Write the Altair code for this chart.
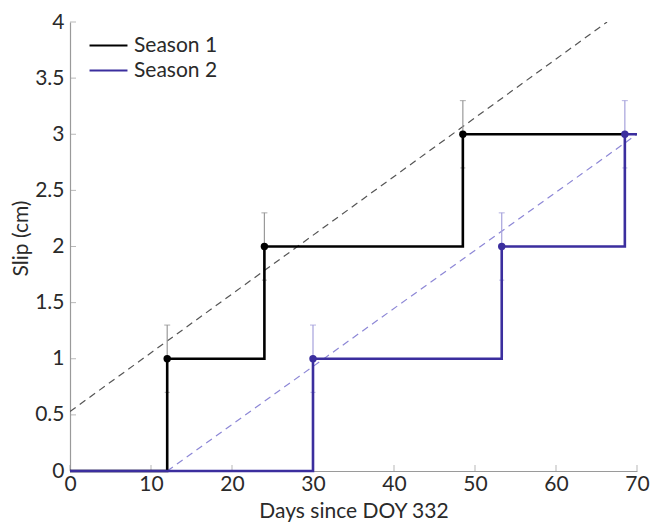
import altair as alt
import pandas as pd

# ---- data ----
seasons = ["Season 1", "Season 2"]

# step series (step-after)
s1_days = [0, 12, 24, 48.5, 68.5]
s1_slip = [0, 1, 2, 3, 3]
s2_days = [0, 30, 53.3, 68.5, 70]
s2_slip = [0, 1, 2, 3, 3]

# observed points with error
p1_days = [12, 24, 48.5]
p1_slip = [1, 2, 3]
p2_days = [30, 53.3, 68.5]
p2_slip = [1, 2, 3]
err = 0.3

# trend (dashed) lines endpoints
t1_days = [0, 66.3]
t1_slip = [0.53, 4.0]
t2_days = [12, 70]
t2_slip = [0, 3.0]

x_ticks = [0, 10, 20, 30, 40, 50, 60, 70]
y_ticks = [0, 0.5, 1, 1.5, 2, 2.5, 3, 3.5, 4]

# ---- tables ----
steps = pd.DataFrame(
    {"day": s1_days + s2_days,
     "slip": s1_slip + s2_slip,
     "season": [seasons[0]] * len(s1_days) + [seasons[1]] * len(s2_days)}
)
pts = pd.DataFrame(
    {"day": p1_days + p2_days,
     "slip": p1_slip + p2_slip,
     "season": [seasons[0]] * len(p1_days) + [seasons[1]] * len(p2_days)}
)
pts["lo"] = pts["slip"] - err
pts["hi"] = pts["slip"] + err
trend = pd.DataFrame(
    {"day": t1_days + t2_days,
     "slip": t1_slip + t2_slip,
     "season": [seasons[0]] * len(t1_days) + [seasons[1]] * len(t2_days)}
)
xt = pd.DataFrame({"v": x_ticks})
yt = pd.DataFrame({"v": y_ticks})

FONT = "Lato"
FS = 21
BLACK = "#000000"
BLUE = "#3b2e9e"
AX = "#9a9a9a"
TXT = "#2a2a2a"

xscale = alt.Scale(domain=[0, 70], nice=False, zero=False)
yscale = alt.Scale(domain=[0, 4], nice=False, zero=False)

xaxis = alt.Axis(
    values=x_ticks, format="~g", title="Days since DOY 332", grid=False, ticks=False,
    domainColor=AX, domainWidth=1.2, labelColor=TXT, labelFont=FONT,
    labelFontSize=FS, labelPadding=2, labelFlush=False,
    titleFont=FONT, titleFontSize=FS, titleFontWeight="normal", titleColor=TXT,
    titlePadding=6,
)
yaxis = alt.Axis(
    values=y_ticks, format="~g", title="Slip (cm)", grid=False, ticks=False,
    domainColor=AX, domainWidth=1.2, labelColor=TXT, labelFont=FONT,
    labelFontSize=FS, labelPadding=6, labelFlush=False,
    titleFont=FONT, titleFontSize=FS, titleFontWeight="normal", titleColor=TXT,
    titleX=-49, titleY=216, titleAngle=270, titleAlign="center", titleBaseline="middle",
)

X = alt.X("day:Q", scale=xscale, axis=xaxis)
Y = alt.Y("slip:Q", scale=yscale, axis=yaxis)

ERR_COLS = alt.Scale(domain=seasons, range=["#9a9a9a", "#a6a2dc"])

trend_layer = alt.Chart(trend).mark_line(
    strokeWidth=1.2, strokeDash=[7, 5], clip=True
).encode(
    x=X, y=Y,
    color=alt.Color("season:N", scale=alt.Scale(domain=seasons, range=["#555555", "#8d87d6"]), legend=None),
)

err_rule = alt.Chart(pts).mark_rule(strokeWidth=1.2).encode(
    x=alt.X("day:Q", scale=xscale),
    y=alt.Y("lo:Q", scale=yscale),
    y2="hi:Q",
    color=alt.Color("season:N", scale=ERR_COLS, legend=None),
)
err_hi = alt.Chart(pts).mark_tick(orient="horizontal", size=6, thickness=1.2).encode(
    x=alt.X("day:Q", scale=xscale),
    y=alt.Y("hi:Q", scale=yscale),
    color=alt.Color("season:N", scale=ERR_COLS, legend=None),
)
err_lo = alt.Chart(pts).mark_tick(orient="horizontal", size=5, thickness=1.2).encode(
    x=alt.X("day:Q", scale=xscale),
    y=alt.Y("lo:Q", scale=yscale),
    color=alt.Color("season:N", scale=ERR_COLS, legend=None),
)

step_layer = alt.Chart(steps).mark_line(
    interpolate="step-after", strokeWidth=2.6, strokeCap="butt"
).encode(
    x=X, y=Y,
    color=alt.Color(
        "season:N",
        scale=alt.Scale(domain=seasons, range=[BLACK, BLUE]),
        legend=alt.Legend(
            title=None, orient="none", legendX=28, legendY=13,
            symbolType="M-3,0H3", symbolSize=160, symbolStrokeWidth=2.2,
            symbolFillColor="transparent",
            labelFont=FONT, labelFontSize=FS, labelColor=TXT, labelOffset=15,
            rowPadding=3, padding=0,
        ),
    ),
)

pt_layer = alt.Chart(pts).mark_circle(size=55, opacity=1).encode(
    x=alt.X("day:Q", scale=xscale),
    y=alt.Y("slip:Q", scale=yscale),
    color=alt.Color("season:N", scale=alt.Scale(domain=seasons, range=[BLACK, BLUE]), legend=None),
)

# inward axis ticks
xtick_layer = alt.Chart(xt).mark_tick(orient="vertical", size=6, thickness=1, yOffset=-3, color=AX).encode(
    x=alt.X("v:Q", scale=xscale), y=alt.value(449)
)
ytick_layer = alt.Chart(yt).mark_tick(orient="horizontal", size=6, thickness=1, xOffset=3, color=AX).encode(
    y=alt.Y("v:Q", scale=yscale), x=alt.value(0)
)

chart = alt.layer(
    trend_layer, err_rule, err_hi, err_lo, xtick_layer, ytick_layer, step_layer, pt_layer
).resolve_scale(color="independent").properties(
    width=567, height=449,
    autosize=alt.AutoSizeParams(type="none"),
    padding={"left": 70, "top": 22, "right": 13, "bottom": 56},
    background="white",
).configure_view(stroke=None)

chart.save("out.html", embed_options={"renderer": "svg", "actions": False})
